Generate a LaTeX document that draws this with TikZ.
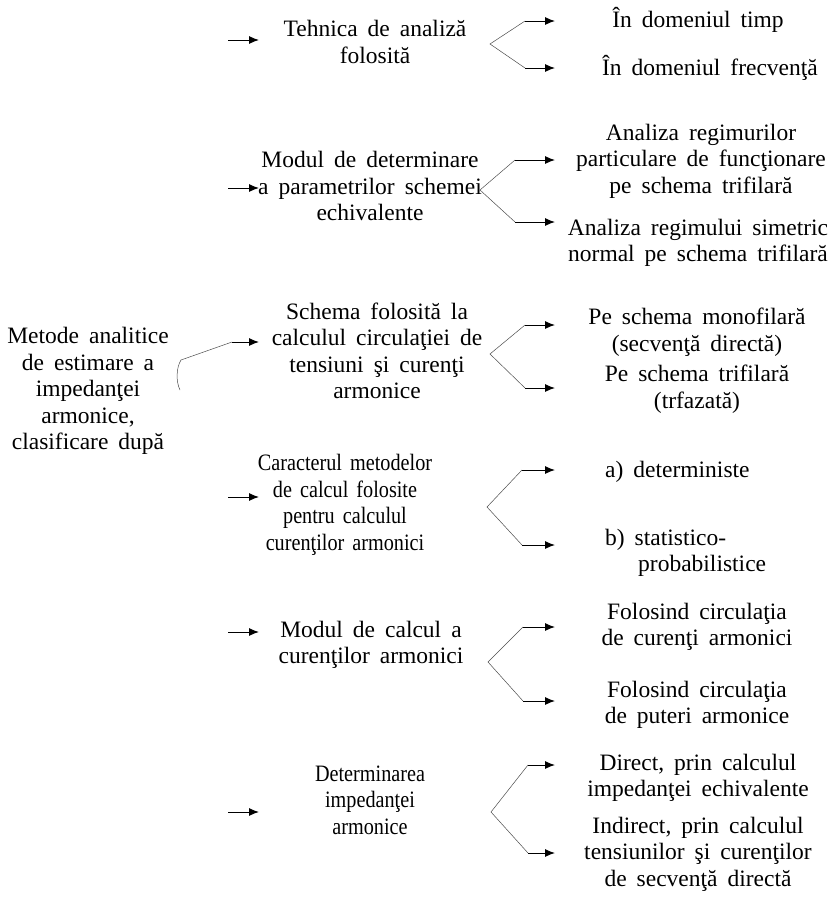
\documentclass[tikz,border=0pt]{standalone}
\usepackage{fontspec}
\setmainfont[WordSpace=1.7]{Liberation Serif}
\newfontfamily\narrowserif[FakeStretch=0.86,WordSpace=1.6]{Liberation Serif}
\usetikzlibrary{arrows.meta}

\tikzset{
  txt/.style={align=center, inner sep=0pt, font=\fontsize{23.5}{26.5}\selectfont},
  ntxt/.style={align=center, inner sep=0pt, font=\narrowserif\fontsize{23.5}{26.5}\selectfont},
  ltxt/.style={align=left, inner sep=0pt, anchor=west, font=\fontsize{23.5}{26.5}\selectfont},
  arr/.style={line width=1pt, -{Latex[length=10pt,width=8pt]}},
  brc/.style={line width=0.5pt, black!70},
}

\begin{document}
\begin{tikzpicture}[x=1pt,y=-1pt]
\useasboundingbox (0,0) rectangle (829,897);

% root of the classification
\node[txt] (root) at (88,391) {Metode analitice\\de estimare a\\impedanţei\\armonice,\\clasificare după};
\coordinate (rb1) at (181,360);
\coordinate (rb2) at (180,390);
\coordinate (rk) at (232,342);
\coordinate (rt) at (259,342);
\draw[brc] (rb2) .. controls (176,382) and (176,368) .. (rb1);
\draw[brc] (rb1) -- (rk);
\draw[arr] (rk) -- (rt);

% ---------- 1: analysis technique
\node[txt] (m1) at (375,42) {Tehnica de analiză\\folosită};
\coordinate (l1s) at (228,40); \coordinate (l1e) at (259,40);
\draw[arr] (l1s) -- (l1e);
\coordinate (a1) at (490,44);
\coordinate (a1t) at (525,21); \coordinate (a1b) at (525,68);
\coordinate (e1t) at (555,21); \coordinate (e1b) at (555,68);
\draw[brc] (a1t) -- (a1) -- (a1b);
\draw[arr] (a1t) -- (e1t);
\draw[arr] (a1b) -- (e1b);
\node[txt] (r1a) at (698,20) {În domeniul timp};
\node[txt] (r1b) at (710,68) {În domeniul frecvenţă};

% ---------- 2: equivalent scheme parameters
\node[txt] (m2) at (370,186) {Modul de determinare\\a parametrilor schemei\\echivalente};
\coordinate (l2s) at (228,188); \coordinate (l2e) at (259,188);
\draw[arr] (l2s) -- (l2e);
\coordinate (a2) at (480,190);
\coordinate (a2t) at (515,160); \coordinate (a2b) at (515,222);
\coordinate (e2t) at (555,160); \coordinate (e2b) at (555,222);
\draw[brc] (a2t) -- (a2) -- (a2b);
\draw[arr] (a2t) -- (e2t);
\draw[arr] (a2b) -- (e2b);
\node[txt] (r2a) at (701,161) {Analiza regimurilor\\particulare de funcţionare\\pe schema trifilară};
\node[txt] (r2b) at (698,243) {Analiza regimului simetric\\normal pe schema trifilară};

% ---------- 3: scheme used for the flow computation
\node[txt] (m3) at (377,351) {Schema folosită la\\calculul circulaţiei de\\tensiuni şi curenţi\\armonice};
\coordinate (a3) at (490,354);
\coordinate (a3t) at (525,325); \coordinate (a3b) at (525,388);
\coordinate (e3t) at (555,325); \coordinate (e3b) at (555,388);
\draw[brc] (a3t) -- (a3) -- (a3b);
\draw[arr] (a3t) -- (e3t);
\draw[arr] (a3b) -- (e3b);
\node[txt] (r3a) at (697,332) {Pe schema monofilară\\(secvenţă directă)};
\node[txt] (r3b) at (697,389) {Pe schema trifilară\\(trfazată)};

% ---------- 4: character of the methods
\node[ntxt] (m4) at (345,505) {Caracterul metodelor\\de calcul folosite\\pentru calculul\\curenţilor armonici};
\coordinate (l4s) at (228,497); \coordinate (l4e) at (259,497);
\draw[arr] (l4s) -- (l4e);
\coordinate (a4) at (487,507);
\coordinate (a4t) at (522,470); \coordinate (a4b) at (522,545);
\coordinate (e4t) at (555,470); \coordinate (e4b) at (555,545);
\draw[brc] (a4t) -- (a4) -- (a4b);
\draw[arr] (a4t) -- (e4t);
\draw[arr] (a4b) -- (e4b);
\node[ltxt] (r4a) at (605,472) {a) deterministe};
\node[ltxt] (r4b) at (605,553) {b) statistico-\\\hspace*{33pt}probabilistice};

% ---------- 5: harmonic current computation
\node[txt] (m5) at (371,645) {Modul de calcul a\\curenţilor armonici};
\coordinate (l5s) at (228,632); \coordinate (l5e) at (259,632);
\draw[arr] (l5s) -- (l5e);
\coordinate (a5) at (488,662);
\coordinate (a5t) at (523,627); \coordinate (a5b) at (523,701);
\coordinate (e5t) at (555,627); \coordinate (e5b) at (555,701);
\draw[brc] (a5t) -- (a5) -- (a5b);
\draw[arr] (a5t) -- (e5t);
\draw[arr] (a5b) -- (e5b);
\node[txt] (r5a) at (697,627) {Folosind circulaţia\\de curenţi armonici};
\node[txt] (r5b) at (697,705) {Folosind circulaţia\\de puteri armonice};

% ---------- 6: harmonic impedance
\node[ntxt] (m6) at (370,800) {Determinarea\\impedanţei\\armonice};
\coordinate (l6s) at (228,812); \coordinate (l6e) at (259,812);
\draw[arr] (l6s) -- (l6e);
\coordinate (a6) at (491,812);
\coordinate (a6t) at (528,765); \coordinate (a6b) at (528,853);
\coordinate (e6t) at (555,765); \coordinate (e6b) at (555,853);
\draw[brc] (a6t) -- (a6) -- (a6b);
\draw[arr] (a6t) -- (e6t);
\draw[arr] (a6b) -- (e6b);
\node[txt] (r6a) at (698,778) {Direct, prin calculul\\impedanţei echivalente};
\node[txt] (r6b) at (698,854) {Indirect, prin calculul\\tensiunilor şi curenţilor\\de secvenţă directă};
\end{tikzpicture}
\end{document}
